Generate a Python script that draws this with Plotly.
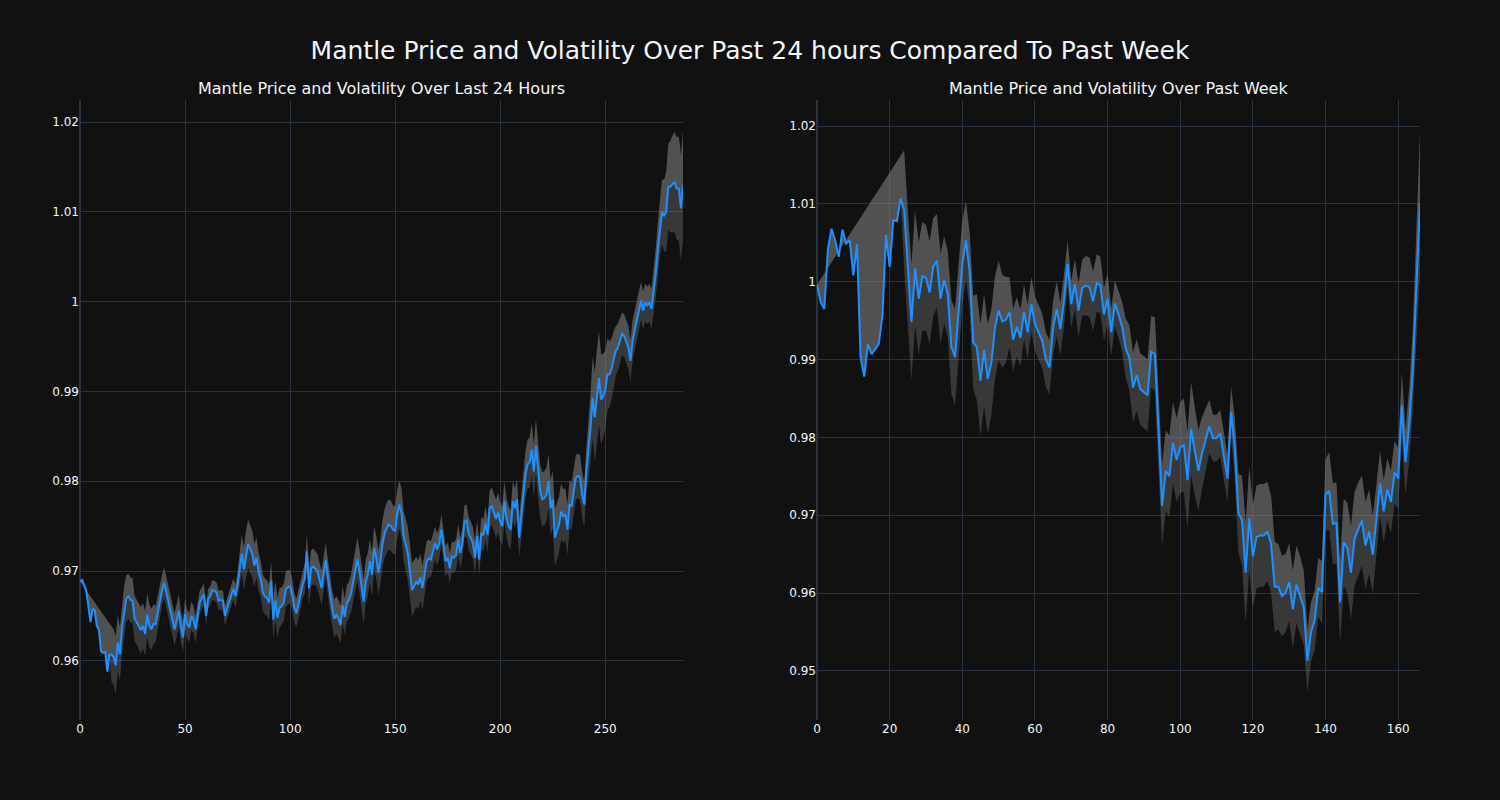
import plotly.graph_objects as go
from plotly.subplots import make_subplots

# ---------------- data: last 24 hours (5-minute steps) ----------------
price_24h = [
    0.96885, 0.9690, 0.9684, 0.9678, 0.9661, 0.9643, 0.9658, 0.9656, 0.9639, 0.9635,
    0.9611, 0.9609, 0.9610, 0.9588, 0.9607, 0.9607, 0.9604, 0.9595, 0.9620, 0.9607,
    0.9637, 0.9656, 0.9669, 0.9672, 0.9668, 0.9667, 0.9647, 0.9643, 0.9639, 0.9634,
    0.9639, 0.9630, 0.9651, 0.9639, 0.9635, 0.9641, 0.9641, 0.9654, 0.9665, 0.9678,
    0.9687, 0.9678, 0.9667, 0.9656, 0.9645, 0.9635, 0.9645, 0.9656, 0.9639, 0.9626,
    0.9652, 0.9641, 0.9637, 0.9650, 0.9646, 0.9635, 0.9650, 0.9665, 0.9670, 0.9674,
    0.9650, 0.9669, 0.9672, 0.9679, 0.9678, 0.9676, 0.9667, 0.9668, 0.9667, 0.9650,
    0.9658, 0.9665, 0.9672, 0.9680, 0.9672, 0.9684, 0.9702, 0.9719, 0.9702, 0.9719,
    0.9730, 0.9725, 0.9719, 0.9706, 0.9715, 0.9699, 0.9691, 0.9676, 0.9672, 0.9670,
    0.9665, 0.9689, 0.9646, 0.9667, 0.9648, 0.9659, 0.9661, 0.9665, 0.9680, 0.9682,
    0.9683, 0.9674, 0.9659, 0.9653, 0.9664, 0.9675, 0.9685, 0.9692, 0.9722, 0.9681,
    0.9703, 0.9705, 0.9703, 0.9700, 0.9690, 0.9681, 0.9698, 0.9712, 0.9692, 0.9674,
    0.9659, 0.9647, 0.9651, 0.9647, 0.9640, 0.9662, 0.9649, 0.9664, 0.9668, 0.9675,
    0.9688, 0.9701, 0.9713, 0.9700, 0.9685, 0.9666, 0.9688, 0.9696, 0.9711, 0.9696,
    0.9726, 0.9715, 0.9698, 0.9711, 0.9731, 0.9742, 0.9748, 0.9752, 0.9750, 0.9746,
    0.9745, 0.9763, 0.9774, 0.9765, 0.9739, 0.9728, 0.9720, 0.9700, 0.9679, 0.9683,
    0.9688, 0.9685, 0.9693, 0.9681, 0.9696, 0.9711, 0.9714, 0.9713, 0.9722, 0.9731,
    0.9724, 0.9731, 0.9746, 0.9726, 0.9711, 0.9715, 0.9703, 0.9716, 0.9715, 0.9718,
    0.9735, 0.9720, 0.9731, 0.9755, 0.9756, 0.9741, 0.9737, 0.9731, 0.9715, 0.9739,
    0.9713, 0.9742, 0.9740, 0.9753, 0.9740, 0.9770, 0.9772, 0.9765, 0.9758, 0.9765,
    0.9755, 0.9750, 0.9778, 0.9759, 0.9750, 0.9746, 0.9778, 0.9770, 0.9780, 0.9737,
    0.9763, 0.9781, 0.9807, 0.9819, 0.9821, 0.9835, 0.9811, 0.9839, 0.9811, 0.9789,
    0.9780, 0.9781, 0.9785, 0.9800, 0.9770, 0.9780, 0.9737, 0.9744, 0.9752, 0.9766,
    0.9761, 0.9763, 0.9746, 0.9774, 0.9772, 0.9789, 0.9804, 0.9806, 0.9804, 0.9785,
    0.9774, 0.9811, 0.9834, 0.9860, 0.9893, 0.9871, 0.9893, 0.9915, 0.9891, 0.9895,
    0.9901, 0.9919, 0.9919, 0.9925, 0.9936, 0.9945, 0.9949, 0.9956, 0.9964, 0.9962,
    0.9956, 0.9949, 0.9934, 0.9956, 0.9968, 0.9979, 0.9990, 1.0001, 0.9990, 0.9999,
    0.9996, 0.9999, 0.9992, 1.0009, 1.0031, 1.0057, 1.0083, 1.0100, 1.0096, 1.0100,
    1.0128, 1.0128, 1.0131, 1.0133, 1.0126, 1.0126, 1.0104, 1.0130,
]
# rolling volatility (half band width, in units of 0.0001); undefined for the first window
vol_24h = [None] * 15 + [
    30, 31, 32, 31, 30,
    28, 27, 26, 25, 25, 25,
    25, 25, 26, 26, 25, 25, 24, 24, 23, 22,
    20, 19, 18, 17, 17, 17, 17, 18, 18, 18,
    18, 18, 17, 17, 17, 16, 16, 16, 15, 15, 14,
    13, 12, 12, 11, 11, 11, 11, 11, 11, 11, 11, 11, 11, 11, 11, 12, 12, 13, 14,
    18, 21, 24, 26, 27, 27, 26,
    24, 22, 21, 20, 20, 20, 20, 20,
    21, 22, 22, 22, 22, 21, 21, 20, 19,
    18, 17, 16, 16, 16, 16, 16, 17,
    19, 20, 20, 20, 19, 19, 19, 19,
    19, 19, 20, 20, 20, 21, 21, 21, 21, 21, 20, 20, 20, 21,
    22, 23, 24, 24, 25, 25, 25, 24, 24, 24, 24, 24, 25, 25,
    26, 27, 28, 28, 28, 27, 27, 27, 27, 27,
    28, 29, 30, 30, 30, 29, 28, 27, 26, 25, 24,
    22, 21, 20, 19, 18, 18, 17, 17, 17, 17, 17, 17, 17, 17, 17, 17,
    17, 17, 18, 18, 18, 18, 18, 18, 18, 18, 18, 18, 19, 19,
    20, 21, 21, 22, 22, 22, 22, 22, 22, 22, 22, 22, 22, 22, 22, 23,
    24, 26, 27, 28, 29, 30, 30, 30, 30, 30, 30, 30,
    30, 31, 32, 32, 32, 31, 31, 30, 29, 28, 27, 26, 25,
    25, 25, 25, 25, 25, 26, 30,
    38, 45, 50, 52, 52, 50, 47,
    44, 40, 37, 34, 31, 28, 26,
    25, 24, 24, 24, 24, 23, 23, 22,
    22, 22, 21, 21, 21, 21, 21, 22, 24,
    27, 30, 33, 36, 40, 44,
    48, 51, 54, 56, 57, 58, 59, 60,
]

# ---------------- data: past week (hourly steps) ----------------
price_week = [
    0.9996, 0.9974, 0.9965, 1.0042, 1.0068, 1.0053, 1.0032, 1.0067, 1.0049, 1.0053,
    1.0008, 1.0048, 0.9903, 0.9878, 0.9920, 0.9907, 0.9913, 0.9920, 0.9956, 1.0060,
    1.0019, 1.0079, 1.0078, 1.0107, 1.0092, 1.0014, 0.9948, 1.0017, 0.9978, 1.0007,
    1.0005, 0.9986, 1.0019, 1.0027, 0.9978, 1.0002, 0.9984, 0.9916, 0.9903, 0.9963,
    1.0023, 1.0053, 1.0014, 0.9922, 0.9916, 0.9873, 0.9912, 0.9875, 0.9896, 0.9941,
    0.9963, 0.9949, 0.9951, 0.9961, 0.9925, 0.9942, 0.9928, 0.9961, 0.9935, 0.9971,
    0.9946, 0.9935, 0.9924, 0.9900, 0.9890, 0.9941, 0.9965, 0.9939, 0.9976, 1.0023,
    0.9971, 0.9997, 0.9963, 0.9992, 0.9995, 0.9993, 0.9975, 0.9998, 0.9996, 0.9958,
    0.9978, 0.9935, 0.9972, 0.9958, 0.9942, 0.9914, 0.9902, 0.9864, 0.9880, 0.9862,
    0.9858, 0.9854, 0.9910, 0.9907, 0.9811, 0.9712, 0.9757, 0.9750, 0.9793, 0.9771,
    0.9787, 0.9790, 0.9745, 0.9811, 0.9782, 0.9757, 0.9780, 0.9796, 0.9814, 0.9799,
    0.9799, 0.9805, 0.9773, 0.9747, 0.9833, 0.9787, 0.9703, 0.9693, 0.9626, 0.9696,
    0.9647, 0.9672, 0.9674, 0.9674, 0.9679, 0.9663, 0.9608, 0.9608, 0.9596, 0.9600,
    0.9614, 0.9579, 0.9611, 0.9597, 0.9581, 0.9513, 0.9550, 0.9565, 0.9607, 0.9601,
    0.9726, 0.9731, 0.9689, 0.9690, 0.9588, 0.9665, 0.9658, 0.9626, 0.9670, 0.9682,
    0.9693, 0.9661, 0.9679, 0.9649, 0.9693, 0.9741, 0.9705, 0.9733, 0.9717, 0.9755,
    0.9747, 0.9841, 0.9768, 0.9815, 0.9885, 0.9984, 1.0101,
]
vol_week = [None] * 24 + [
    77,
    76, 75, 74, 72, 70, 68,
    66, 63, 60, 58, 56, 55,
    60, 62, 60, 55, 50, 50,
    60, 68, 72, 72, 70, 68, 66, 64, 60, 55,
    45, 40, 38, 36, 35, 35, 35, 35, 35, 35,
    35, 35, 35, 35, 34, 33,
    30, 30, 32, 34, 36, 38, 38, 38, 37, 36, 34, 32,
    30, 30, 30, 32,
    38, 42, 45, 46, 46, 46, 46, 46, 47,
    50, 52, 52, 52, 52, 54,
    58, 60, 62, 60, 56, 52, 46, 40,
    34, 30, 30, 30, 30, 30,
    32, 38,
    50, 58, 64, 66, 66, 66, 66, 66, 64, 62,
    58, 55, 52, 50, 50, 50, 50, 50, 48,
    40, 38, 38, 38, 40,
    46, 50, 52, 52, 54,
    56, 58, 60, 60, 60, 58, 56, 54, 50, 46,
    42, 40, 40, 40, 40, 40,
    42, 42, 46, 52, 70, 90,
]

assert len(price_24h) == 288 and len(vol_24h) == 288
assert len(price_week) == 167 and len(vol_week) == 167

title_main = "Mantle Price and Volatility Over Past 24 hours Compared To Past Week"
title_left = "Mantle Price and Volatility Over Last 24 Hours"
title_right = "Mantle Price and Volatility Over Past Week"

LINE_COLOR = "#1E90FF"
BAND_FILL = "rgba(128,128,128,0.36)"
FONT = "DejaVu Sans"

fig = make_subplots(rows=1, cols=2, subplot_titles=(title_left, title_right),
                    horizontal_spacing=0.1)


def add_series(price, vol, col):
    n = len(price)
    xs = list(range(n))
    valid = [i for i in range(n) if vol[i] is not None]
    first = valid[0]
    # upper edge: starts at first price, then price + vol where defined
    ux = [0] + valid
    uy = [price[0]] + [price[i] + vol[i] * 1e-4 for i in valid]
    # lower edge: follows price until volatility exists, then price - vol
    lx = list(range(first)) + valid
    ly = [price[i] for i in range(first)] + [price[i] - vol[i] * 1e-4 for i in valid]

    fig.add_trace(go.Scatter(x=xs, y=price, mode="lines", line=dict(width=0),
                             hoverinfo="skip", showlegend=False), row=1, col=col)
    fig.add_trace(go.Scatter(x=ux, y=uy, mode="lines", line=dict(width=0),
                             fill="tonexty", fillcolor=BAND_FILL,
                             hoverinfo="skip", showlegend=False), row=1, col=col)
    fig.add_trace(go.Scatter(x=lx, y=ly, mode="lines", line=dict(width=0),
                             fill="tonexty", fillcolor=BAND_FILL,
                             hoverinfo="skip", showlegend=False), row=1, col=col)
    fig.add_trace(go.Scatter(x=xs, y=price, mode="lines",
                             line=dict(color=LINE_COLOR, width=2),
                             name="Price", showlegend=False), row=1, col=col)


add_series(price_24h, vol_24h, 1)
add_series(price_week, vol_week, 2)

fig.update_layout(
    template="plotly_dark",
    width=1500, height=800,
    paper_bgcolor="#111111", plot_bgcolor="#111111",
    font=dict(family=FONT, color="#f2f5fa"),
    title=dict(text=title_main, x=0.5, xanchor="center", y=1 - 50 / 800, yanchor="middle",
               font=dict(size=25, family=FONT)),
    margin=dict(l=80, r=80, t=100, b=80),
    showlegend=False,
)
for ann in fig.layout.annotations:
    ann.font = dict(size=16, family=FONT, color="#f2f5fa")

fig.update_xaxes(range=[0, 287], row=1, col=1)
fig.update_xaxes(range=[0, 166], row=1, col=2)
fig.update_yaxes(range=[0.95341, 1.02246], row=1, col=1)
fig.update_yaxes(range=[0.94368, 1.02335], row=1, col=2)

fig.write_html(
    "out.html",
    config={"displayModeBar": False},
    post_script="document.body.style.margin='0';document.body.style.background='#111111';",
)
